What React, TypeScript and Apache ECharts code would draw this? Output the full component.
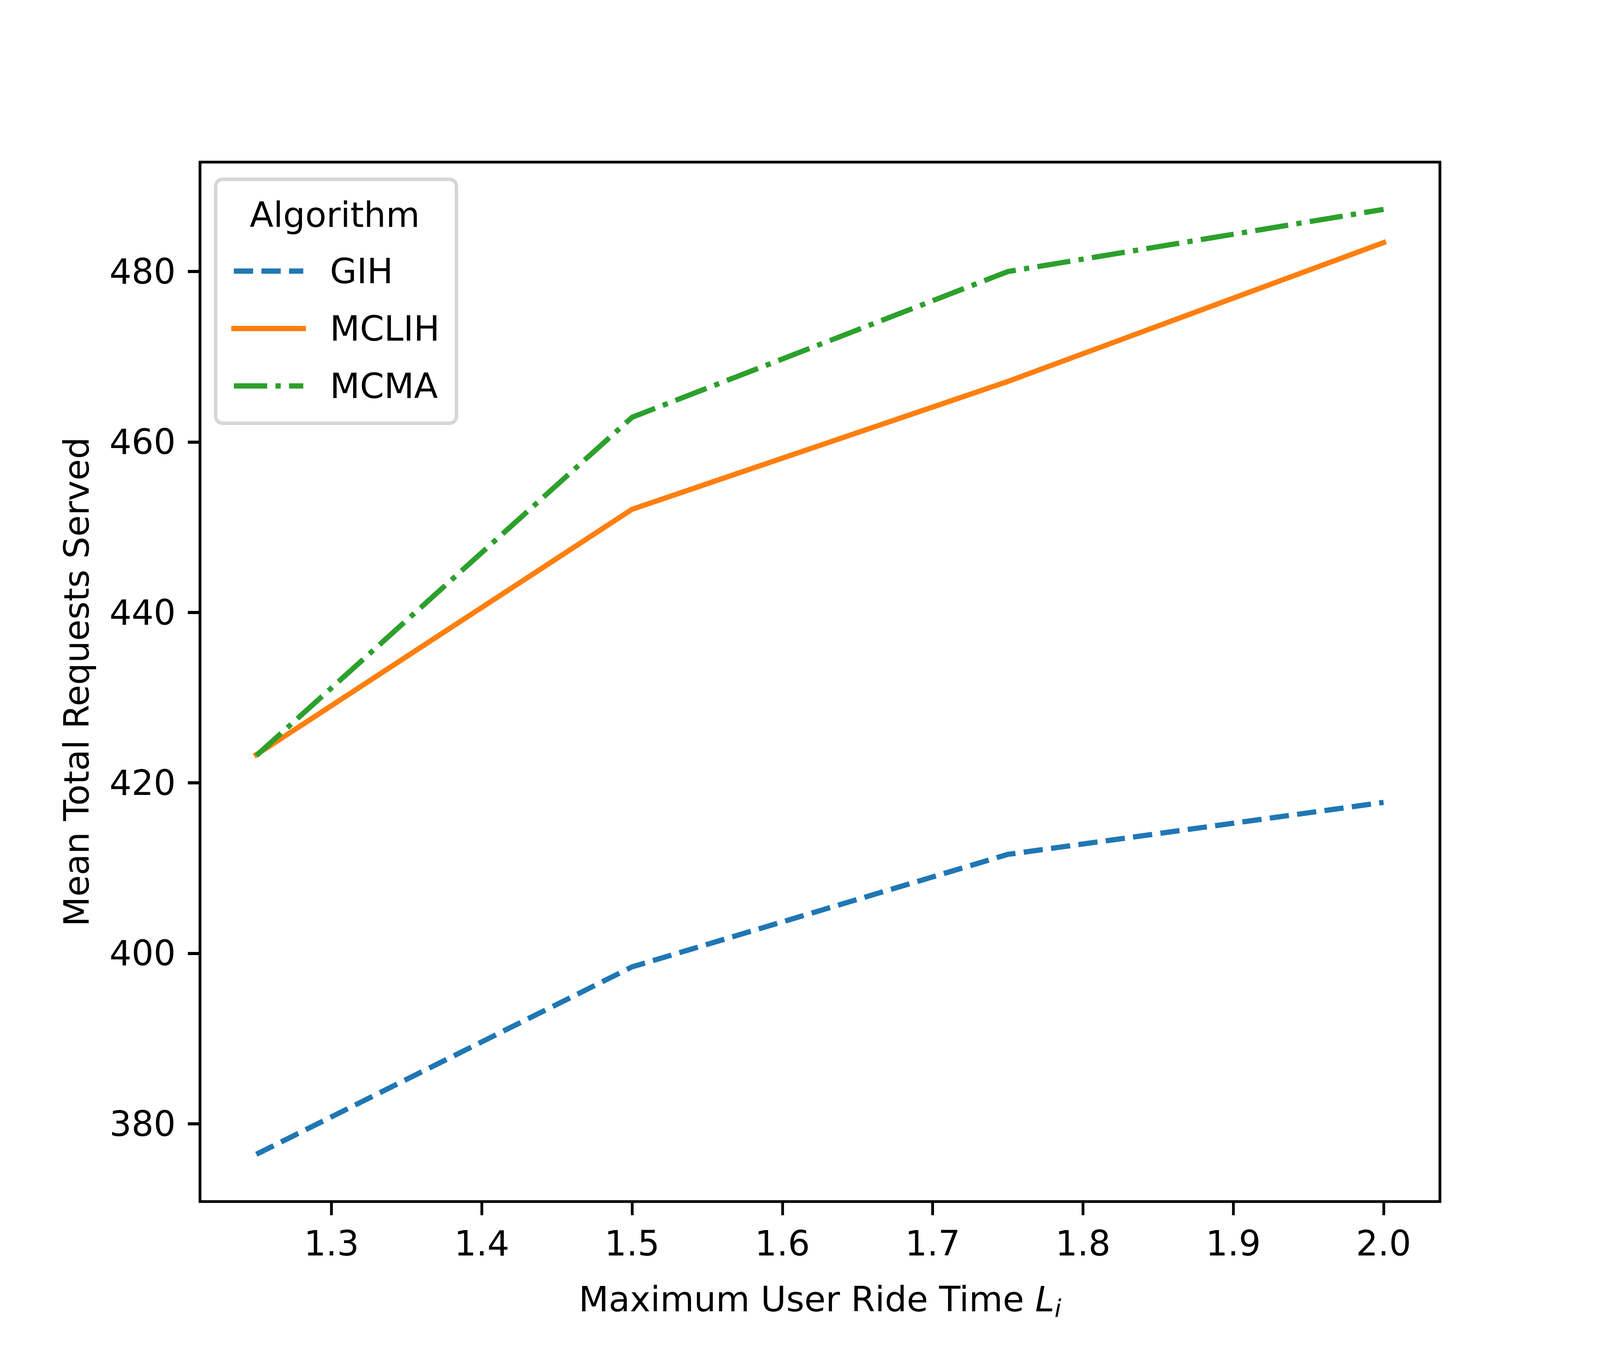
import React, { useEffect, useRef } from "react";
import * as echarts from "echarts";

const rideTimes = [1.25, 1.5, 1.75, 2.0];
const gihServed = [376.4, 398.4, 411.6, 417.7];
const mclihServed = [423.3, 452.1, 467.1, 483.4];
const mcmaServed = [423.2, 462.9, 480.0, 487.3];
const seriesNames = ["GIH", "MCLIH", "MCMA"];
const xTickValues = [1.3, 1.4, 1.5, 1.6, 1.7, 1.8, 1.9, 2.0];
const yTickValues = [380, 400, 420, 440, 460, 480];
const legendTitle = "Algorithm";
const yAxisTitle = "Mean Total Requests Served";

const FONT = "DejaVu Sans";

function padded(vals: number[]) {
  const lo = Math.min(...vals);
  const hi = Math.max(...vals);
  const p = (hi - lo) * 0.05;
  return [lo - p, hi + p];
}

export default function App() {
  const ref = useRef<HTMLDivElement>(null);
  useEffect(() => {
    const el = ref.current;
    if (!el) return;
    const sx = el.clientWidth / 4608;
    const sy = el.clientHeight / 3456;
    const h = (n: number) => n * sx;
    const v = (n: number) => n * sy;
    const chart = echarts.init(el, null, { renderer: "svg" });
    const [xMin, xMax] = padded(rideTimes);
    const [yMin, yMax] = padded([...gihServed, ...mclihServed, ...mcmaServed]);
    const pairs = (ys: number[]) => rideTimes.map((x, i) => [x, ys[i]]);
    const option: any = {
      animation: false,
      backgroundColor: "#ffffff",
      grid: {
        left: h(576),
        top: v(415),
        right: h(461),
        bottom: v(380),
        show: true,
        borderColor: "#000",
        borderWidth: h(8),
        backgroundColor: "transparent",
        containLabel: false,
        outerBoundsMode: "none",
      },
      xAxis: {
        type: "value",
        min: xMin,
        max: xMax,
        name: "{n|Maximum User Ride Time }{l|L}{s|i}",
        nameLocation: "middle",
        nameGap: v(281) - h(84.6),
        nameTextStyle: {
          rich: {
            n: { fontFamily: FONT, fontSize: h(100), lineHeight: h(100), color: "#000", verticalAlign: "top" },
            l: { fontFamily: FONT, fontSize: h(100), lineHeight: h(100), color: "#000", fontStyle: "italic", verticalAlign: "top" },
            s: {
              fontFamily: FONT,
              fontSize: h(70),
              lineHeight: h(70),
              color: "#000",
              fontStyle: "italic",
              verticalAlign: "top",
              padding: [h(41), 0, 0, 0],
            },
          },
        },
        axisLine: { show: false },
        splitLine: { show: false },
        axisTick: {
          show: true,
          length: v(35),
          lineStyle: { color: "#000", width: h(8) },
          customValues: xTickValues,
        },
        axisLabel: {
          customValues: xTickValues,
          margin: v(73) - h(11.7),
          fontFamily: FONT,
          fontSize: h(100),
          color: "#000",
          formatter: (val: number) => val.toFixed(1),
        },
      },
      yAxis: {
        type: "value",
        min: yMin,
        max: yMax,
        name: yAxisTitle,
        nameLocation: "middle",
        nameGap: h(305),
        nameTextStyle: { fontFamily: FONT, fontSize: h(100), color: "#000" },
        axisLine: { show: false },
        splitLine: { show: false },
        axisTick: {
          show: true,
          length: h(35),
          lineStyle: { color: "#000", width: v(8) },
          customValues: yTickValues,
        },
        axisLabel: {
          customValues: yTickValues,
          margin: h(70),
          fontFamily: FONT,
          fontSize: h(100),
          color: "#000",
          formatter: (val: number) => String(Math.round(val)),
        },
      },
      legend: {
        orient: "vertical",
        left: h(621),
        top: v(459),
        itemWidth: h(200),
        itemHeight: h(15),
        itemGap: 0,
        padding: [v(161.5), h(48), v(22), h(45)],
        backgroundColor: "rgba(255,255,255,0.8)",
        borderColor: "#d6d6d6",
        borderWidth: h(10),
        borderRadius: h(20),
        selectedMode: false,
        data: seriesNames,
        itemStyle: { opacity: 0 },
        lineStyle: { width: h(15) },
        textStyle: {
          fontFamily: FONT,
          fontSize: h(100),
          color: "#000",
          lineHeight: v(147),
          padding: [0, 0, 0, h(71)],
        },
      },
      graphic: [
        {
          type: "text",
          z: 100,
          x: h(964),
          y: v(581) - h(34.6),
          style: {
            text: legendTitle,
            fontFamily: FONT,
            fontSize: h(100),
            fill: "#000",
            textAlign: "center",
            textVerticalAlign: "middle",
            verticalAlign: "middle",
          },
        },
      ],
      series: [
        {
          name: seriesNames[0],
          type: "line",
          data: pairs(gihServed),
          symbol: "none",
          showSymbol: false,
          color: "#1f77b4",
          lineStyle: { color: "#1f77b4", width: h(15), type: [h(55.5), h(24)], join: "round" },
        },
        {
          name: seriesNames[1],
          type: "line",
          data: pairs(mclihServed),
          symbol: "none",
          showSymbol: false,
          color: "#ff7f0e",
          lineStyle: { color: "#ff7f0e", width: h(15), type: "solid", cap: "square", join: "round" },
        },
        {
          name: seriesNames[2],
          type: "line",
          data: pairs(mcmaServed),
          symbol: "none",
          showSymbol: false,
          color: "#2ca02c",
          lineStyle: { color: "#2ca02c", width: h(15), type: [h(96), h(24), h(15), h(24)], join: "round" },
        },
      ],
    };
    chart.setOption(option);
    return () => chart.dispose();
  }, []);
  return (
    <div
      ref={ref}
      style={{ position: "absolute", left: 0, top: 0, width: "100vw", height: "100vh", overflow: "hidden" }}
    />
  );
}
